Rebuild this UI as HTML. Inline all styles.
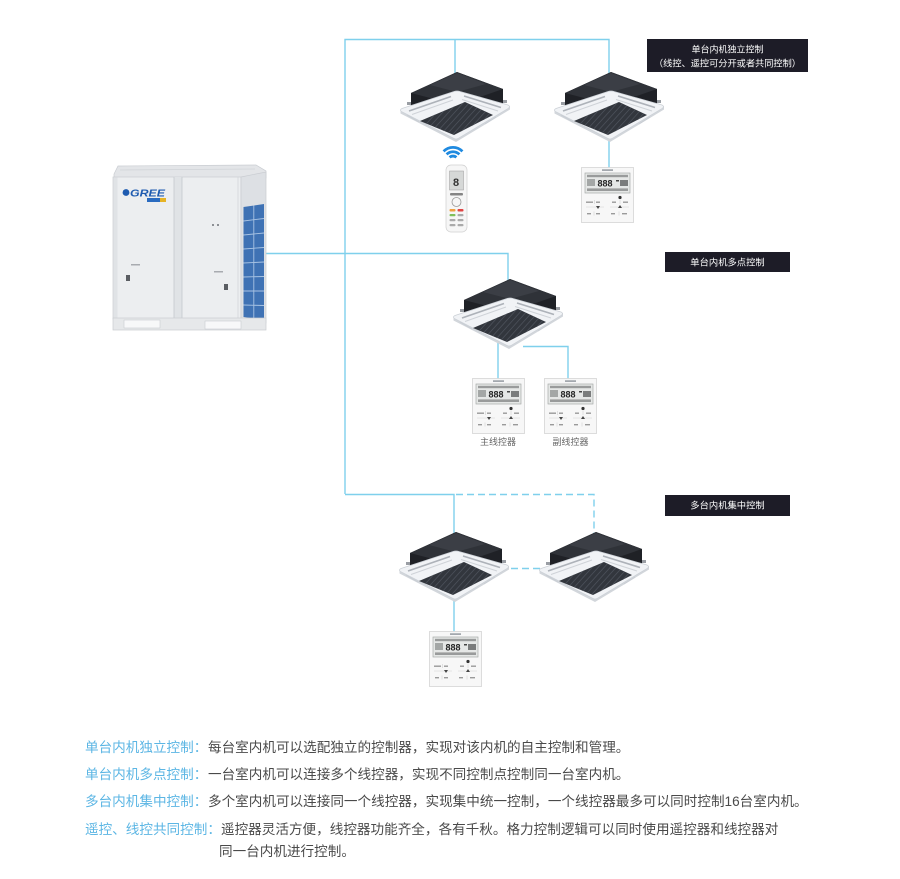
<!DOCTYPE html>
<html>
<head>
<meta charset="utf-8">
<style>
  html,body{margin:0;padding:0;background:#ffffff;}
  body{width:900px;height:879px;overflow:hidden;}
  svg{display:block;}
  .cjk{font-family:"Liberation Sans","Noto Sans CJK SC",sans-serif;}
</style>
</head>
<body>
<svg width="900" height="879" viewBox="0 0 900 879" xmlns="http://www.w3.org/2000/svg">
  <defs>
    <clipPath id="gc">
      <polygon points="20,49 65,30 93,43 54,63"/>
    </clipPath>
    <g id="cas">
      <!-- black body: sides + top -->
      <polygon points="11,34 11,21 57,0 103,17 103,33 57,26" fill="#1f2126"/>
      <polygon points="11,21 57,0 103,17 57,33" fill="#2f3238"/>
      <polygon points="30,13 57,1 86,12 57,20" fill="#3b3e45"/>
      <!-- brackets -->
      <rect x="7" y="30" width="4" height="3" fill="#9a9ea4"/>
      <rect x="103" y="28" width="4" height="3" fill="#9a9ea4"/>
      <!-- panel rim -->
      <path d="M0.5,38 L56,67 L110,34 L110,37.5 L56,70 L0.5,41.5 Z" fill="#d2d6db"/>
      <!-- panel -->
      <path d="M1.5,39.5 Q-1,38 2,36.5 L54,19.5 Q57,18.5 60,19.5 L108,33 Q111,34.5 108,36.5 L58,66.5 Q56,67.5 54,66.5 Z" fill="#f1f3f6" stroke="#cbd0d6" stroke-width="0.7"/>
      <!-- slots -->
      <path d="M9,39 L51,24.5" stroke="#adb2b9" stroke-width="1.7"/>
      <path d="M12,42.5 L53,28" stroke="#cfd3d8" stroke-width="1"/>
      <path d="M64,24 L101,35.5" stroke="#adb2b9" stroke-width="1.7"/>
      <path d="M62,27.5 L98,39" stroke="#cfd3d8" stroke-width="1"/>
      <path d="M7,43 L19,50" stroke="#c8cdd3" stroke-width="1"/>
      <path d="M96,45 L85,52" stroke="#c8cdd3" stroke-width="1"/>
      <!-- grille -->
      <polygon points="20,49 65,30 93,43 54,63" fill="#32363d"/>
      <g clip-path="url(#gc)" stroke="#4c515a" stroke-width="0.8">
        <line x1="10" y1="70" x2="55" y2="20"/>
        <line x1="16" y1="70" x2="61" y2="20"/>
        <line x1="22" y1="70" x2="67" y2="20"/>
        <line x1="28" y1="70" x2="73" y2="20"/>
        <line x1="34" y1="70" x2="79" y2="20"/>
        <line x1="40" y1="70" x2="85" y2="20"/>
        <line x1="46" y1="70" x2="91" y2="20"/>
        <line x1="52" y1="70" x2="97" y2="20"/>
        <line x1="58" y1="70" x2="103" y2="20"/>
        <line x1="64" y1="70" x2="109" y2="20"/>
      </g>
    </g>
    <g id="wc">
      <rect x="0.5" y="0.5" width="52" height="55" fill="#f7f7f7" stroke="#d5d5d5" stroke-width="0.8"/>
      <rect x="21" y="2.3" width="11" height="1.6" fill="#9aa0a6"/>
      <rect x="4" y="6" width="45" height="20" fill="#e5e7e6" stroke="#a7aaa9" stroke-width="0.7"/>
      <rect x="6" y="7.8" width="41" height="2.4" fill="#7f8281" opacity="0.75"/>
      <rect x="6" y="12" width="8" height="7" fill="#6f7271" opacity="0.55"/>
      <text x="16.5" y="19.5" font-size="9" font-weight="bold" fill="#222" font-family="Liberation Sans, sans-serif">888</text>
      <rect x="35" y="13" width="3" height="1.5" fill="#444"/>
      <rect x="39" y="13" width="8" height="6" fill="#4d4f4e" opacity="0.7"/>
      <rect x="6" y="21.4" width="41" height="2.6" fill="#7f8281" opacity="0.75"/>
      <circle cx="39" cy="30.5" r="1.6" fill="#333"/>
      <rect x="5" y="34.5" width="7" height="1.4" fill="#9a9a9a"/>
      <rect x="15" y="34.5" width="4" height="1.4" fill="#9a9a9a"/>
      <rect x="31" y="34.5" width="4" height="1.4" fill="#9a9a9a"/>
      <rect x="42" y="34.5" width="5" height="1.4" fill="#9a9a9a"/>
      <line x1="13.5" y1="33" x2="13.5" y2="37" stroke="#c8c8c8" stroke-width="0.5"/>
      <line x1="39" y1="33" x2="39" y2="37" stroke="#c8c8c8" stroke-width="0.5"/>
      <line x1="5" y1="40" x2="23" y2="40" stroke="#d0d0d0" stroke-width="0.5"/>
      <line x1="29" y1="40" x2="48" y2="40" stroke="#d0d0d0" stroke-width="0.5"/>
      <polygon points="15,39 19,39 17,42" fill="#444"/>
      <polygon points="37,41 41,41 39,38" fill="#444"/>
      <rect x="6" y="46" width="4" height="1.4" fill="#9a9a9a"/>
      <rect x="15" y="46" width="4" height="1.4" fill="#9a9a9a"/>
      <rect x="30" y="46" width="4" height="1.4" fill="#9a9a9a"/>
      <rect x="41" y="46" width="5" height="1.4" fill="#9a9a9a"/>
      <line x1="13" y1="44.5" x2="13" y2="48.5" stroke="#c8c8c8" stroke-width="0.5"/>
      <line x1="38" y1="44.5" x2="38" y2="48.5" stroke="#c8c8c8" stroke-width="0.5"/>
    </g>
  </defs>

  <!-- connector lines -->
  <g fill="none" stroke="#7fd0ec" stroke-width="1.4">
    <polyline points="345,494 345,39.5 609,39.5 609,76"/>
    <line x1="455" y1="39.5" x2="455" y2="76"/>
    <polyline points="265,253.5 508,253.5 508,283"/>
    <line x1="609" y1="135" x2="609" y2="168"/>
    <line x1="498" y1="340" x2="498" y2="379"/>
    <polyline points="523,346.5 568,346.5 568,379"/>
    <polyline points="345,494.5 454,494.5 454,536"/>
    <line x1="454" y1="595" x2="454" y2="633"/>
  </g>
  <g fill="none" stroke="#7fd0ec" stroke-width="1.4" stroke-dasharray="7,4">
    <polyline points="456,494.5 594,494.5 594,536"/>
    <line x1="500" y1="568.5" x2="553" y2="568.5"/>
  </g>

  <!-- outdoor unit -->
  <g>
    <polygon points="114,174 118,166 256,165 266,171 266,178 114,178" fill="#e3e5e8" stroke="#c9ccd1" stroke-width="0.7"/>
    <line x1="120" y1="170" x2="255" y2="169" stroke="#d2d5d9" stroke-width="0.8"/>
    <rect x="113" y="177" width="128" height="142" fill="#eceef0" stroke="#c9ccd1" stroke-width="0.7"/>
    <rect x="113.5" y="177.5" width="4" height="141" fill="#e0e3e6"/>
    <rect x="174" y="177" width="8" height="142" fill="#e0e3e6"/>
    <line x1="174" y1="177" x2="174" y2="319" stroke="#c4c8cc" stroke-width="0.8"/>
    <line x1="182" y1="177" x2="182" y2="319" stroke="#c4c8cc" stroke-width="0.8"/>
    <line x1="238" y1="177" x2="238" y2="319" stroke="#d3d6da" stroke-width="0.8"/>
    <polygon points="241,177 266,172 266,323 241,319" fill="#dde0e4" stroke="#c9ccd1" stroke-width="0.7"/>
    <polygon points="243.5,207 264,204 264,320 243.5,317" fill="#3f72b4"/>
    <g stroke="#a8c3e3" stroke-width="0.9">
      <line x1="253.8" y1="205.5" x2="253.8" y2="318.5"/>
      <line x1="243.5" y1="221" x2="264" y2="218.5"/>
      <line x1="243.5" y1="235" x2="264" y2="233"/>
      <line x1="243.5" y1="249" x2="264" y2="247.5"/>
      <line x1="243.5" y1="263" x2="264" y2="262"/>
      <line x1="243.5" y1="277" x2="264" y2="276.5"/>
      <line x1="243.5" y1="291" x2="264" y2="291"/>
      <line x1="243.5" y1="305" x2="264" y2="305.5"/>
    </g>
    <rect x="113" y="318" width="153" height="12" fill="#e6e8ea" stroke="#c9ccd1" stroke-width="0.7"/>
    <rect x="124" y="320" width="36" height="8" fill="#f7f8f9" stroke="#c9ccd1" stroke-width="0.6"/>
    <rect x="205" y="321" width="36" height="8" fill="#f7f8f9" stroke="#c9ccd1" stroke-width="0.6"/>
    <circle cx="126" cy="192.5" r="3.4" fill="#1e5bb0"/>
    <text x="130" y="196.5" font-size="10.5" font-weight="bold" font-style="italic" fill="#1e5bb0" font-family="Liberation Sans, sans-serif" textLength="35" lengthAdjust="spacingAndGlyphs">GREE</text>
    <rect x="147" y="198" width="13" height="4" fill="#2a6bc0"/>
    <rect x="160" y="198" width="6" height="4" fill="#e6b325"/>
    <rect x="131" y="264" width="9" height="1.5" fill="#a8abb0"/>
    <rect x="214" y="271" width="9" height="1.5" fill="#a8abb0"/>
    <rect x="126" y="275" width="4" height="6" fill="#5a5d62"/>
    <rect x="224" y="284" width="4" height="6" fill="#5a5d62"/>
    <rect x="212" y="224" width="2" height="2" fill="#8d9095"/>
    <rect x="217" y="224" width="2" height="2" fill="#8d9095"/>
  </g>

  <!-- cassettes -->
  <use href="#cas" x="400" y="72"/>
  <use href="#cas" x="554" y="72"/>
  <use href="#cas" x="453" y="279"/>
  <use href="#cas" x="399" y="532"/>
  <use href="#cas" x="539" y="532"/>

  <!-- wired controllers -->
  <use href="#wc" x="581" y="167"/>
  <use href="#wc" x="472" y="378"/>
  <use href="#wc" x="544" y="378"/>
  <use href="#wc" x="429" y="631"/>

  <!-- remote -->
  <g fill="none" stroke="#1f8ae0" stroke-width="2.8" stroke-linecap="butt">
    <path d="M449.6,157.4 A5,5 0 0 1 456.4,157.4"/>
    <path d="M446.6,154.4 A9,9 0 0 1 459.4,154.4"/>
    <path d="M443.6,151.4 A13,13 0 0 1 462.4,151.4"/>
  </g>
  <g>
    <rect x="446" y="165" width="21" height="67" rx="5" fill="#f6f6f6" stroke="#cfcfcf" stroke-width="0.7"/>
    <rect x="449.5" y="171" width="14" height="19" fill="#d6d8d7" stroke="#9a9a9a" stroke-width="0.5"/>
    <text x="453" y="186" font-size="11" font-weight="bold" fill="#333" font-family="Liberation Sans, sans-serif">8</text>
    <rect x="450" y="193" width="13" height="2.5" rx="1" fill="#555" opacity="0.7"/>
    <circle cx="456.5" cy="202" r="4.5" fill="none" stroke="#999" stroke-width="0.8"/>
    <rect x="449.5" y="209" width="6" height="2.5" rx="1" fill="#f0a040"/>
    <rect x="457.5" y="209" width="6" height="2.5" rx="1" fill="#e04444"/>
    <rect x="449.5" y="214" width="6" height="2.2" rx="1" fill="#7fbf5a"/>
    <rect x="457.5" y="214" width="6" height="2.2" rx="1" fill="#aaa"/>
    <rect x="449.5" y="219" width="6" height="2.2" rx="1" fill="#aaa"/>
    <rect x="457.5" y="219" width="6" height="2.2" rx="1" fill="#aaa"/>
    <rect x="449.5" y="224" width="6" height="2.2" rx="1" fill="#aaa"/>
    <rect x="457.5" y="224" width="6" height="2.2" rx="1" fill="#aaa"/>
  </g>

  <!-- label boxes -->
  <rect x="647" y="39" width="161" height="33" fill="#1d1c27"/>
  <text class="cjk" x="727.5" y="52.5" font-size="9" fill="#ffffff" text-anchor="middle">单台内机独立控制</text>
  <text class="cjk" x="727.5" y="66.5" font-size="9.2" fill="#ffffff" text-anchor="middle">（线控、遥控可分开或者共同控制）</text>

  <rect x="665" y="252" width="125" height="20" fill="#1d1c27"/>
  <text class="cjk" x="727.5" y="265.5" font-size="9.3" fill="#ffffff" text-anchor="middle">单台内机多点控制</text>

  <rect x="665" y="495" width="125" height="21" fill="#1d1c27"/>
  <text class="cjk" x="727.5" y="508.5" font-size="9.3" fill="#ffffff" text-anchor="middle">多台内机集中控制</text>

  <!-- controller captions -->
  <text class="cjk" x="498" y="445" font-size="9" fill="#666" text-anchor="middle">主线控器</text>
  <text class="cjk" x="570.5" y="445" font-size="9" fill="#666" text-anchor="middle">副线控器</text>

  <!-- description text -->
  <g class="cjk" font-size="13.6">
    <text x="85" y="752" fill="#5cb6e4">单台内机独立控制：</text>
    <text x="208" y="752" fill="#4a4a4a">每台室内机可以选配独立的控制器，实现对该内机的自主控制和管理。</text>
    <text x="85" y="779" fill="#5cb6e4">单台内机多点控制：</text>
    <text x="208" y="779" fill="#4a4a4a">一台室内机可以连接多个线控器，实现不同控制点控制同一台室内机。</text>
    <text x="85" y="806" fill="#5cb6e4">多台内机集中控制：</text>
    <text x="208" y="806" fill="#4a4a4a">多个室内机可以连接同一个线控器，实现集中统一控制，一个线控器最多可以同时控制16台室内机。</text>
    <text x="85" y="834" fill="#5cb6e4">遥控、线控共同控制：</text>
    <text x="221" y="834" fill="#4a4a4a">遥控器灵活方便，线控器功能齐全，各有千秋。格力控制逻辑可以同时使用遥控器和线控器对</text>
    <text x="219" y="856" fill="#4a4a4a">同一台内机进行控制。</text>
  </g>
</svg>
</body>
</html>
